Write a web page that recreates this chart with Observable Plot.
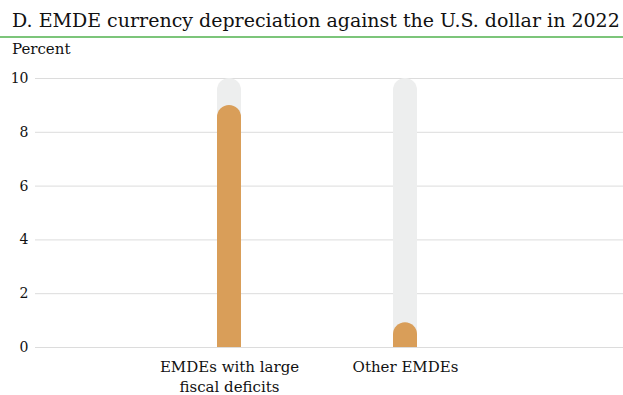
<!DOCTYPE html>
<html><head><meta charset="utf-8">
<script src="https://cdn.jsdelivr.net/npm/d3@7"></script>
<script src="https://cdn.jsdelivr.net/npm/@observablehq/plot@0.6"></script>
<style>
body{margin:0;background:#fff;font-family:"DejaVu Serif",serif;}
#title{font-size:19px;color:#111;padding:9px 0 0 12px;height:27px;border-bottom:2px solid #7CC57A;white-space:nowrap;}
#unit{font-size:15px;color:#111;padding:2px 0 0 12px;height:18px;}
</style></head>
<body>
<div id="title">D. EMDE currency depreciation against the U.S. dollar in 2022</div>
<div id="unit">Percent</div>
<div id="chart"></div>
<script>
const categories = ["EMDEs with large fiscal deficits", "Other EMDEs"];
const tickLabels = ["EMDEs with large\nfiscal deficits", "Other EMDEs"];
const values = [9.0, 0.92];
const maxValues = [10, 10];
const yTicks = [0, 2, 4, 6, 8, 10];

const data = categories.map((c, i) => ({cat: c, value: values[i], max: maxValues[i]}));

const chart = Plot.plot({
  width: 623,
  height: 337,
  marginLeft: 35,
  marginRight: 0,
  marginTop: 20,
  marginBottom: 48,
  style: "font-family: 'DejaVu Serif', serif; font-size: 14px; color: #111; background: #fff;",
  x: {domain: categories, range: [141, 493], paddingInner: 0.864, paddingOuter: 0.432},
  y: {domain: [0, 10]},
  marks: [
    Plot.gridY(yTicks, {stroke: "#dcdcdc", strokeOpacity: 1, strokeWidth: 1}),
    Plot.barY(data, {x: "cat", y: "max", fill: "#EDEEEE", ry1: 12}),
    Plot.barY(data, {x: "cat", y: "value", fill: "#D99E59", ry1: 12}),
    Plot.axisY(yTicks, {tickSize: 0, tickPadding: 7, label: null, fontSize: 14}),
    Plot.axisX({tickSize: 0, tickPadding: 10, label: null, fontSize: 15, lineHeight: 1.35,
      tickFormat: (d) => tickLabels[categories.indexOf(d)]})
  ]
});
document.getElementById("chart").appendChild(chart);
</script>
</body></html>
